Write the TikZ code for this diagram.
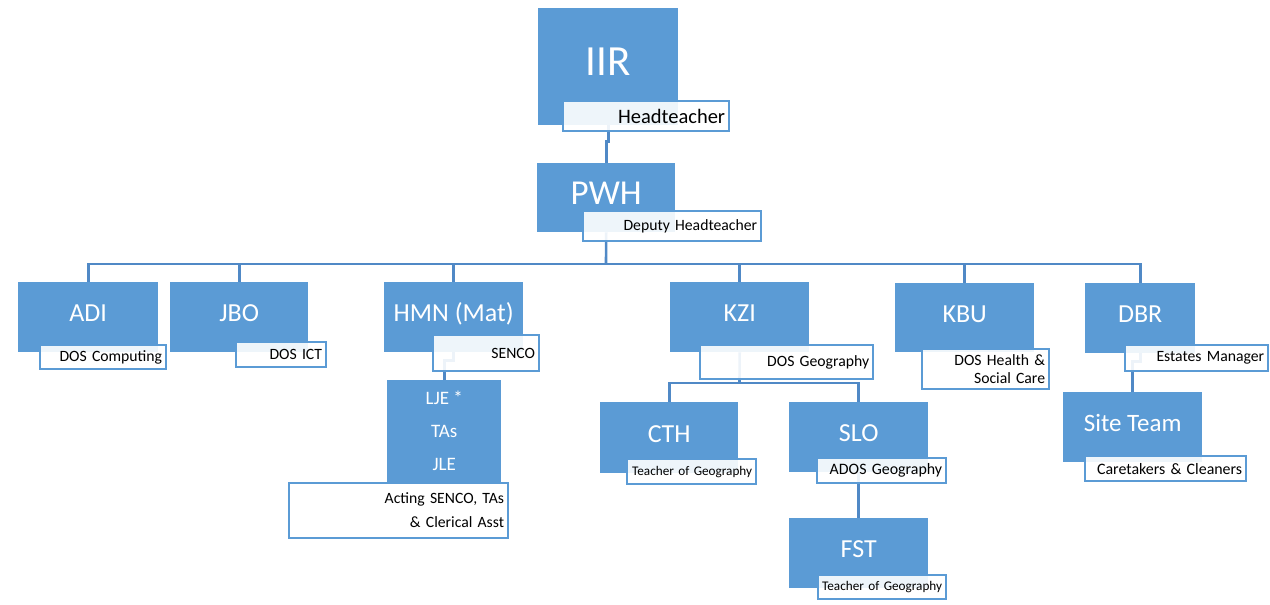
\documentclass[tikz,border=0pt]{standalone}
\usepackage{fontspec}
\setmainfont{Carlito}
\definecolor{myblue}{HTML}{5B9BD5}
\definecolor{connblue}{HTML}{5089C6}
\pgfdeclarelayer{bg}
\pgfsetlayers{bg,main}
\newcommand{\fs}[2]{\fontsize{#1}{#2}\selectfont}
\tikzset{
  bx/.style={fill=myblue, text=white, inner sep=0pt, anchor=north west, align=center},
  tv/.style 2 args={text height=#1, text depth=#2},
  big/.style={font=\fs{26}{30}, tv={20pt}{11.3pt}},
  lb/.style={draw=myblue, line width=2.2pt, fill=white, fill opacity=0.9, text opacity=1,
             anchor=north west, inner xsep=4pt, inner ysep=0pt, align=right, text=black},
  conn/.style={draw=connblue, line width=2.6pt}
}
\begin{document}
\begin{tikzpicture}[x=1pt,y=-1pt]
\useasboundingbox (0,0) rectangle (1270,605);
% blue boxes
\node[bx, minimum width=140, minimum height=117, font=\fs{43}{50}, tv={30pt}{12.3pt}] (iir) at (538,8) {IIR};
\node[bx, minimum width=138, minimum height=69, font=\fs{35}{40}, tv={25pt}{11.5pt}] (pwh) at (537,163) {PWH};
\node[bx, big, minimum width=140, minimum height=70] (adi) at (18,282) {ADI};
\node[bx, big, minimum width=138, minimum height=70] (jbo) at (170,282) {JBO};
\node[bx, big, minimum width=139, minimum height=70] (hmn) at (384,282) {HMN (Mat)};
\node[bx, minimum width=114, minimum height=102, font=\fs{19}{33}] (lje) at (387,380) {LJE *\\TAs\\JLE};
\node[bx, big, minimum width=139, minimum height=70] (kzi) at (670,282) {KZI};
\node[bx, big, minimum width=138, minimum height=71] (cth) at (600,402) {CTH};
\node[bx, big, minimum width=139, minimum height=70] (slo) at (789,402) {SLO};
\node[bx, big, minimum width=139, minimum height=70] (fst) at (789,518) {FST};
\node[bx, big, minimum width=139, minimum height=69] (kbu) at (895,283) {KBU};
\node[bx, big, minimum width=110, minimum height=70] (dbr) at (1085,283) {DBR};
\node[bx, minimum width=139, minimum height=70, font=\fs{25}{30}, tv={19.5pt}{11.4pt}] (site) at (1063,392) {Site Team};
% labels
\node[lb, text width=158, minimum height=30, font=\fs{20.5}{24}] (iirl) at (562,100) {Headteacher};
\node[lb, text width=170, minimum height=30, font=\fs{15.7}{19}] (pwhl) at (582,210) {Deputy Headteacher};
\node[lb, text width=118, minimum height=24, font=\fs{15.7}{19}] (adil) at (39,344) {DOS Computing};
\node[lb, text width=82, minimum height=25, font=\fs{15.7}{19}] (jbol) at (235,341) {DOS ICT};
\node[lb, text width=98, minimum height=36, font=\fs{15.7}{19}] (hmnl) at (432,334) {SENCO};
\node[lb, text width=211, minimum height=55, font=\fs{15.7}{24}] (ljel) at (288,482) {Acting SENCO, TAs\\\& Clerical Asst};
\node[lb, text width=165, minimum height=34, font=\fs{15.7}{19}] (kzil) at (699,344) {DOS Geography};
\node[lb, text width=121, minimum height=25, font=\fs{13.2}{16}] (cthl) at (626,458) {Teacher of Geography};
\node[lb, text width=121, minimum height=25, font=\fs{15.9}{19}] (slol) at (816,457) {ADOS Geography};
\node[lb, text width=120, minimum height=24, font=\fs{13.2}{16}] (fstl) at (817,574) {Teacher of Geography};
\node[lb, text width=119, minimum height=40, font=\fs{15.7}{18}] (kbul) at (921,348) {DOS Health \&\\Social Care};
\node[lb, text width=135, minimum height=26, font=\fs{15.7}{19}] (dbrl) at (1124,344) {Estates Manager};
\node[lb, text width=153, minimum height=25, font=\fs{15.9}{19}] (sitel) at (1084,455) {Caretakers \& Cleaners};
% connectors
\coordinate (bus) at (606,264);
\coordinate (kbus) at (739.5,383);
\begin{pgfonlayer}{bg}
\draw[conn] (iir.south) -- ++(0,16) -| (pwh.north);
\draw[conn] (pwh.south) -- (bus);
\draw[conn] (bus) -| (adi.north);
\draw[conn] (bus) -| (jbo.north);
\draw[conn] (bus) -| (hmn.north);
\draw[conn] (bus) -| (kzi.north);
\draw[conn] (bus) -| (kbu.north);
\draw[conn] (bus) -| (dbr.north);
\draw[conn] (hmn.south) -- ++(0,8) -| (lje.north);
\draw[conn] (kzi.south) -- (kbus);
\draw[conn] (kbus) -| (cth.north);
\draw[conn] (kbus) -| (slo.north);
\draw[conn] (slo.south) -- (fst.north);
\draw[conn] (dbr.south) -- ++(0,8) -| (site.north);
\end{pgfonlayer}
\end{tikzpicture}
\end{document}
